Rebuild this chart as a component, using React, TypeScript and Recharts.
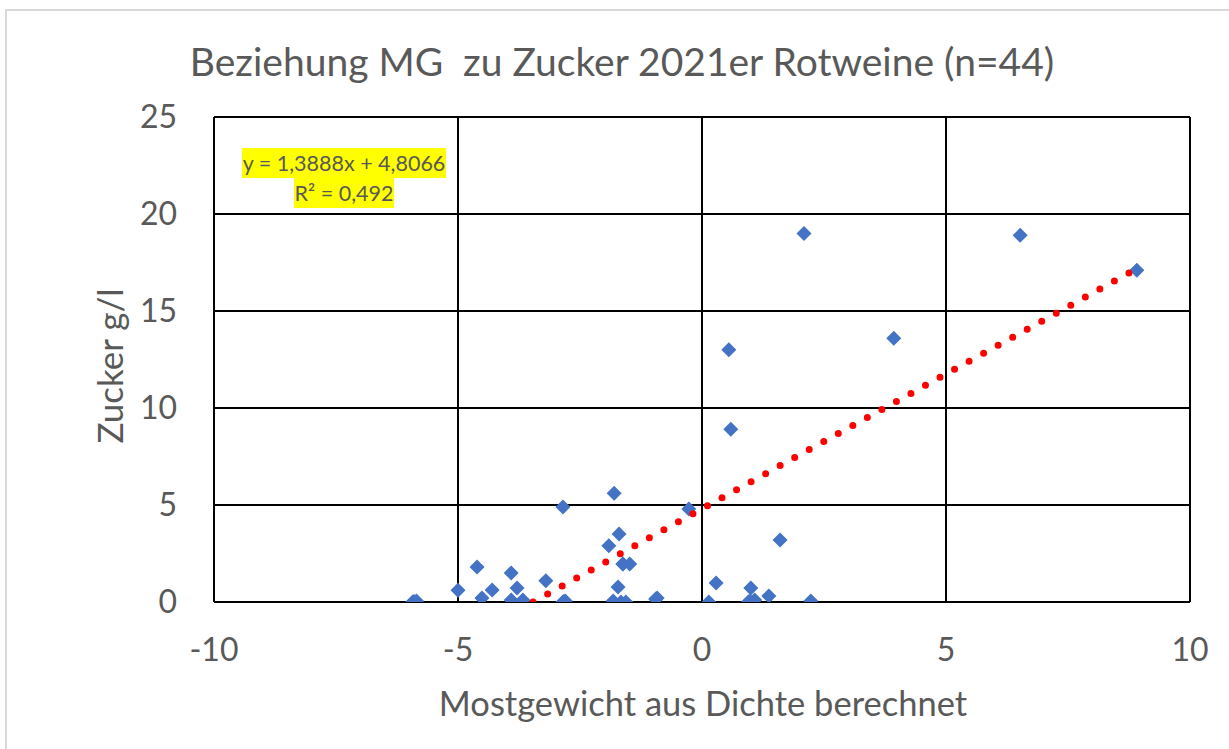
import { CartesianGrid, Scatter, ScatterChart, XAxis, YAxis } from "recharts";

// Mostgewicht (x) vs. Zucker g/l (y)
const mostgewicht = [
  -5.93, -5.85, -5.0, -4.61, -4.51, -4.3, -3.91, -3.79, -3.91, -3.67, -3.2, -2.85, -2.8, -2.85,
  -1.8, -1.91, -1.7, -1.62, -1.48, -1.72, -1.82, -1.66, -1.56, -0.92, -0.95, -0.27, 0.14, 0.29,
  1.0, 0.95, 1.08, 1.37, 2.23, 0.55, 0.59, 2.09, 3.93, 6.52, 8.91, 1.6, -2.83, 0.98, -5.9, -1.62,
];
const zucker = [
  0.0, 0.05, 0.6, 1.8, 0.2, 0.62, 1.5, 0.72, 0.1, 0.1, 1.1, 0.0, 0.05, 4.9,
  5.6, 2.9, 3.5, 1.96, 1.96, 0.77, 0.05, 0.0, 0.0, 0.2, 0.15, 4.8, 0.0, 0.98,
  0.72, 0.0, 0.1, 0.31, 0.05, 13.0, 8.9, 19.0, 13.6, 18.9, 17.1, 3.2, 0.02, 0.05, 0.02, 1.96,
];

const xTicks = [-10, -5, 0, 5, 10];
const yTicks = [0, 5, 10, 15, 20, 25];

// linear trendline from the chart: y = 1,3888x + 4,8066
const slope = 1.3888;
const intercept = 4.8066;
const trendX = [-intercept / slope, 8.91];

const points = mostgewicht.map((x, i) => ({ x, y: zucker[i] }));
const trend = trendX.map((x) => ({ x, y: slope * x + intercept }));

const FONT = "Lato, 'Open Sans', sans-serif";
const GRAY = "#595959";

function Diamond(props: any) {
  const { cx, cy } = props;
  const r = 7.5;
  return (
    <polygon
      points={`${cx},${cy - r} ${cx + r},${cy} ${cx},${cy + r} ${cx - r},${cy}`}
      fill="#4472C4"
    />
  );
}

export default function App() {
  return (
    <div style={{ position: "absolute", left: 0, top: 0, width: 1229, height: 749, background: "#fff", fontFamily: FONT }}>
      <div
        style={{
          position: "absolute",
          left: 5,
          top: 9,
          width: 1229,
          height: 760,
          border: "2px solid #d9d9d9",
        }}
      />
      <ScatterChart width={1229} height={749} margin={{ top: 117, right: 39, bottom: 97, left: 154 }}>
        <CartesianGrid stroke="#000" strokeWidth={2} />
        <XAxis
          type="number"
          dataKey="x"
          domain={[-10, 10]}
          ticks={xTicks}
          height={50}
          tickSize={0}
          tickMargin={36}
          axisLine={false}
          tick={{ fill: GRAY, fontSize: 32, fontFamily: FONT }}
        />
        <YAxis
          type="number"
          dataKey="y"
          domain={[0, 25]}
          ticks={yTicks}
          width={60}
          tickSize={0}
          tickMargin={37}
          axisLine={false}
          allowDataOverflow
          tick={{ fill: GRAY, fontSize: 32, fontFamily: FONT }}
        />
        <Scatter data={points} shape={<Diamond />} isAnimationActive={false} />
        <Scatter
          data={trend}
          line={{ stroke: "#FF0000", strokeWidth: 7, strokeDasharray: "0 16.6", strokeLinecap: "round" }}
          shape={() => <g />}
          isAnimationActive={false}
        />
      </ScatterChart>
      <svg width={1229} height={749} style={{ position: "absolute", left: 0, top: 0, pointerEvents: "none" }}>
        <text
          x={622}
          y={76}
          textAnchor="middle"
          fill={GRAY}
          fontSize={39}
          fontFamily={FONT}
          style={{ whiteSpace: "pre" }}
        >
          {"Beziehung MG  zu Zucker 2021er Rotweine (n=44)"}
        </text>
        <text
          transform="translate(123,366) rotate(-90)"
          textAnchor="middle"
          fill={GRAY}
          fontSize={35}
          fontFamily={FONT}
        >
          Zucker g/l
        </text>
        <text x={703} y={716} textAnchor="middle" fill={GRAY} fontSize={34.5} fontFamily={FONT}>
          Mostgewicht aus Dichte berechnet
        </text>
      </svg>
      <div
        style={{
          position: "absolute",
          left: 224,
          top: 148,
          width: 240,
          textAlign: "center",
          color: GRAY,
          fontSize: 21.5,
          lineHeight: "30px",
          whiteSpace: "nowrap",
        }}
      >
        <span style={{ background: "#FFFF00", padding: "2px 1px" }}>y = 1,3888x + 4,8066</span>
        <br />
        <span style={{ background: "#FFFF00", padding: "2px 1px" }}>R² = 0,492</span>
      </div>
    </div>
  );
}
